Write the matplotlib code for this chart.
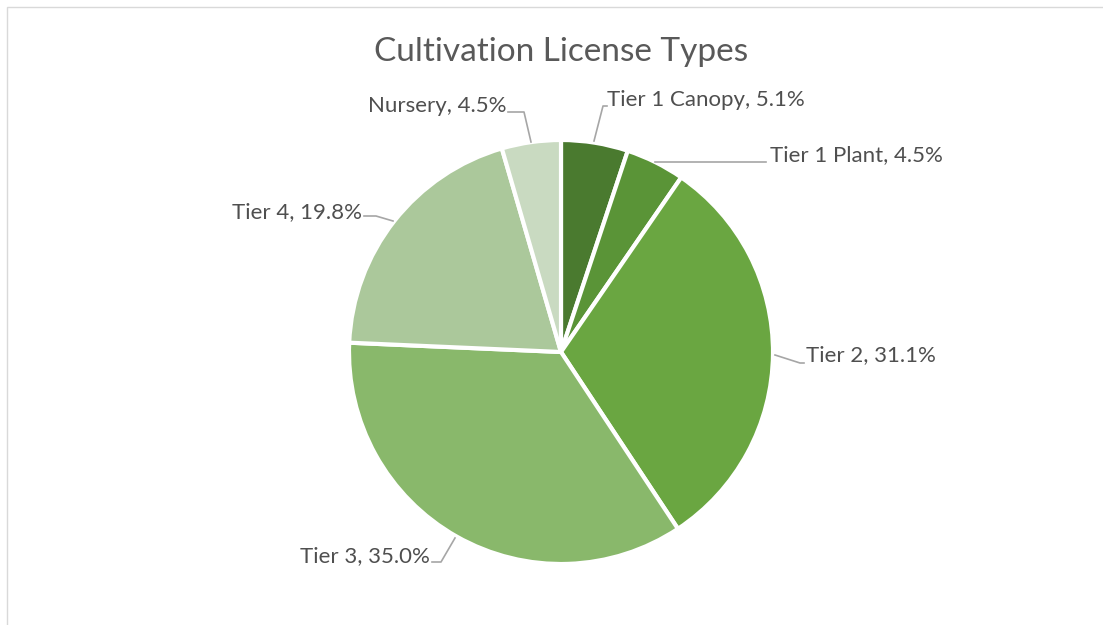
import matplotlib.pyplot as plt
from matplotlib.patches import Rectangle

plt.rcParams["font.family"] = ["Lato", "DejaVu Sans"]

# ── Data ──────────────────────────────────────────────────────────────────────
labels = ["Tier 1 Canopy", "Tier 1 Plant", "Tier 2", "Tier 3", "Tier 4", "Nursery"]
shares = [5.1, 4.5, 31.1, 35.0, 19.8, 4.5]
colors = ["#4a7a2f", "#5a9437", "#6aa641", "#89b86b", "#abc89b", "#c9dac1"]

TEXT = "#4f4f4f"
LINE = "#a6a6a6"

W, H = 1103, 625
fig = plt.figure(figsize=(W / 100, H / 100), dpi=100)

# light chart border
fig.patches.append(Rectangle((7 / W, -0.01), 1.1, (H - 7) / H + 0.01,
                             transform=fig.transFigure, fill=False,
                             edgecolor="#d9d9d9", linewidth=1))

# pie: centre (561, 352) px, radius 212 px
cx, cy, r = 561, 352, 212
ax = fig.add_axes([(cx - r) / W, (H - cy - r) / H, 2 * r / W, 2 * r / H])
wedges, _ = ax.pie(shares, colors=colors, startangle=90, counterclock=False,
                   radius=1, wedgeprops=dict(edgecolor="white", linewidth=3))
ax.set_xlim(-1, 1)
ax.set_ylim(-1, 1)
ax.set_aspect("equal")
ax.axis("off")


def px(x, y):
    """pixel position -> pie data coords"""
    return (x - cx) / r, (cy - y) / r


# label text anchor (px), alignment, leader polyline (px)
label_layout = [
    ((607, 100), "left", [(594, 141), (603, 106), (607, 106)]),
    ((770, 155), "left", [(655, 162), (766, 162)]),
    ((806, 355), "left", [(775, 355), (800, 363), (804, 363)]),
    ((430, 556), "right", [(455, 538), (441, 562), (432, 562)]),
    ((362, 212), "right", [(393, 221), (376, 216), (364, 216)]),
    ((506, 106), "right", [(531, 142), (524, 112), (508, 112)]),
]

for name, val, (pos, ha, path) in zip(labels, shares, label_layout):
    tx, ty = px(*pos)
    ax.text(tx, ty, f"{name}, {val:.1f}%", ha=ha, va="center",
            fontsize=16, color=TEXT, clip_on=False)
    xs, ys = zip(*[px(*p) for p in path])
    ax.plot(xs, ys, color=LINE, linewidth=1.2, clip_on=False)

fig.text(561 / W, 1 - 52 / H, "Cultivation License Types", ha="center",
         va="center", fontsize=24, color="#595959")

fig.savefig("out.png", dpi=100)
